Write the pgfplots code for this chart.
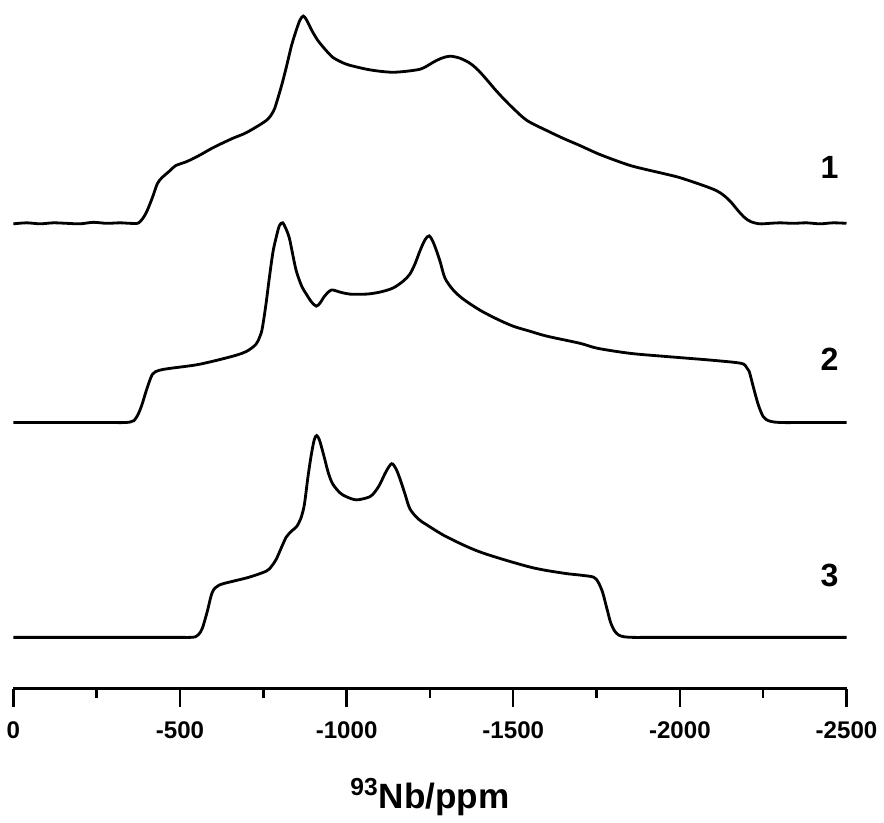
\documentclass[border=0pt]{standalone}
\usepackage{pgfplots}
\pgfplotsset{compat=1.18}
\usepackage{pgfplotstable}
\usepackage{fontspec}
\setmainfont{Liberation Sans}

% intensities relative to each baseline (ppm, intensity)
\pgfplotstableread{
ppm int
0 0
40 1
80 0
120 1
160 0.5
200 0
240 1.5
280 0.5
320 1
350 0.5
376 1
397 10
417 26
432 40
446 46
470 53
487 58
520 62
557 68
600 76
657 85
700 91
759 103
780 112
789 120
805 138
819 156
835 178
849 193
860 203
870 207
880 203
895 193
913 183
935 174
958 166
985 161
1009 158
1060 154
1100 152
1139 151
1180 152
1220 154
1240 157
1260 161
1285 165
1310 167
1340 165
1370 160
1395 153
1422 143
1445 134
1470 125
1500 115
1541 103
1600 93
1651 85
1700 78
1753 70
1800 64
1852 58
1900 54
1952 50
2000 46
2072 38
2110 33
2133 28
2155 21
2175 13
2195 6
2214 2
2240 0
2270 0.5
2300 1
2340 0.5
2380 1
2420 0
2460 1
2500 0.5
}\specA

\pgfplotstableread{
ppm int
0 0
50 0
100 0
150 0
200 0
250 0
300 0
330 0
350 0.5
362 2
374 8
386 18
400 33
417 48
437 52
470 54
557 58
657 66
700 71
728 78
740 86
747 94
758 118
768 144
779 170
789 185
798 196
808 199
818 193
828 184
838 168
849 151
865 136
879 128
895 120
909 116
920 119
934 126
954 132
980 130
1009 128
1060 128
1100 130
1139 134
1170 141
1190 148
1205 158
1220 171
1235 182
1248 186
1262 178
1280 161
1295 144
1320 132
1350 123
1400 112
1452 103
1500 96
1550 91
1602 86
1700 79
1753 74
1850 69
1952 66
2100 62
2184 59
2200 55
2208 51
2220 36
2235 18
2250 6
2265 2
2284 0.5
2310 0
2350 0
2400 0
2450 0
2500 0
}\specB

\pgfplotstableread{
ppm int
0 0
50 0
100 0
150 0
200 0
250 0
300 0
350 0
400 0
450 0
500 0
530 0
545 0.5
556 3
567 9
582 26
597 45
617 52
660 56
708 60
759 66
775 71
789 78
805 90
819 100
835 106
849 110
862 118
873 132
884 160
894 182
903 197
910 201
919 196
934 178
945 164
958 153
980 144
1000 140
1030 137
1069 140
1085 145
1099 152
1118 165
1135 173
1148 168
1160 158
1175 143
1190 128
1215 118
1241 112
1301 100
1401 85
1551 70
1650 64
1702 62
1741 60
1755 55
1768 45
1780 30
1792 15
1805 6
1818 2
1835 0.5
1860 0
1900 0
1950 0
2000 0
2100 0
2200 0
2300 0
2400 0
2500 0
}\specC

\begin{document}
\begin{tikzpicture}
\begin{axis}[
  scale only axis,
  width=415pt, height=343pt,
  xmin=-2500, xmax=0, ymin=128, ymax=814,
  x dir=reverse,
  axis x line*=bottom,
  axis y line=none,
  axis line style={line width=1.2pt},
  xtick={0,-500,-1000,-1500,-2000,-2500},
  xticklabels={0,-500,-1000,-1500,-2000,-2500},
  minor x tick num=1,
  tick align=outside,
  major tick length=9pt,
  minor tick length=4.5pt,
  tick style={line width=1.2pt, black},
  xticklabel style={font=\fontsize{12}{14}\selectfont\bfseries, yshift=-4pt},
  xlabel={\textsuperscript{93}Nb/ppm},
  xlabel style={font=\fontsize{17.5}{20}\selectfont\bfseries, yshift=-13pt},
  clip=false,
]
\addplot[black, line width=1.4pt, smooth, tension=0.5] table[x expr=-\thisrow{ppm}, y expr=\thisrow{int}+591] {\specA};
\addplot[black, line width=1.4pt, smooth, tension=0.5] table[x expr=-\thisrow{ppm}, y expr=\thisrow{int}+393] {\specB};
\addplot[black, line width=1.4pt, smooth, tension=0.5] table[x expr=-\thisrow{ppm}, y expr=\thisrow{int}+179] {\specC};
\node[font=\fontsize{16}{18}\selectfont\bfseries] at (axis cs:-2449,647) {1};
\node[font=\fontsize{16}{18}\selectfont\bfseries] at (axis cs:-2449,456) {2};
\node[font=\fontsize{16}{18}\selectfont\bfseries] at (axis cs:-2449,241) {3};
\path (rel axis cs:0,1) (rel axis cs:1,1);
\end{axis}
\end{tikzpicture}
\end{document}
